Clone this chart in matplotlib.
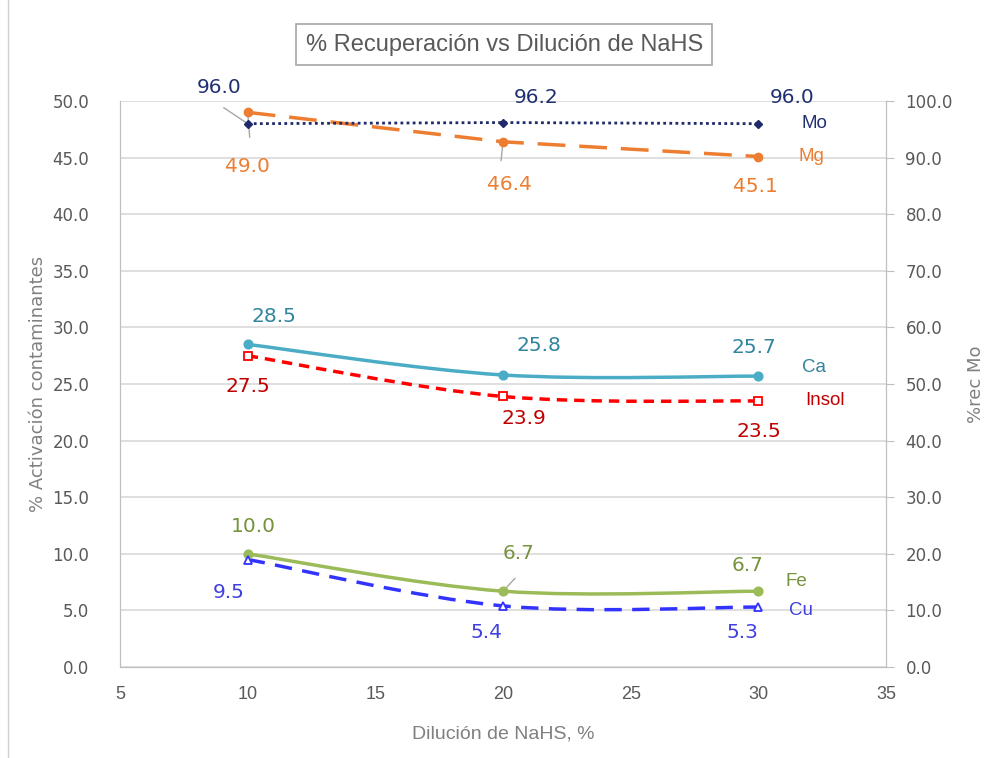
import numpy as np
import matplotlib.pyplot as plt
from matplotlib.path import Path
from matplotlib.patches import PathPatch
from matplotlib.lines import Line2D

# data
dilucion = [10, 20, 30]
mo = [96.0, 96.2, 96.0]      # right axis
mg = [49.0, 46.4, 45.1]
ca = [28.5, 25.8, 25.7]
insol = [27.5, 23.9, 23.5]
fe = [10.0, 6.7, 6.7]
cu = [9.5, 5.4, 5.3]

narrow = ['Liberation Sans', 'DejaVu Sans']
gray = '#808080'


def smooth_path(x, y):
    # Excel-style smoothed line: Catmull-Rom as cubic Bezier segments
    pts = np.column_stack([x, y]).astype(float)
    verts = [pts[0]]
    codes = [Path.MOVETO]
    n = len(pts)
    for i in range(n - 1):
        p0 = pts[i - 1] if i > 0 else pts[i]
        p1 = pts[i]
        p2 = pts[i + 1]
        p3 = pts[i + 2] if i + 2 < n else pts[i + 1]
        c1 = p1 + (p2 - p0) / 6.0
        c2 = p2 - (p3 - p1) / 6.0
        verts += [c1, c2, p2]
        codes += [Path.CURVE4] * 3
    return Path(verts, codes)


fig = plt.figure(figsize=(9.88, 7.58), dpi=100)
ax = fig.add_axes([0.1215, 0.12, 0.7753, 0.7467])
ax2 = ax.twinx()

ax.set_xlim(5, 35)
ax.set_ylim(0, 50)
ax2.set_ylim(0, 100)
ax.set_yticks(np.arange(0, 51, 5))
ax2.set_yticks(np.arange(0, 101, 10))
ax.set_xticks(np.arange(5, 36, 5))
ax.yaxis.set_major_formatter(plt.FormatStrFormatter('%.1f'))
ax2.yaxis.set_major_formatter(plt.FormatStrFormatter('%.1f'))
ax.grid(axis='y', color='#d9d9d9', lw=1.2)
ax.set_axisbelow(True)

for a in (ax, ax2):
    a.spines['top'].set_visible(False)
    a.spines['left'].set_color('#bfbfbf')
    a.spines['right'].set_color('#bfbfbf')
    a.spines['bottom'].set_color('#bfbfbf')

ax.tick_params(axis='y', length=0, labelsize=12, labelcolor='#595959', pad=22)
ax.tick_params(axis='x', length=0, labelsize=13, labelcolor='#595959', pad=14)
for t in ax.get_xticklabels():
    t.set_family(narrow)
for t in ax.get_yticklabels() + ax2.get_yticklabels():
    t.set_family('DejaVu Sans')
ax2.tick_params(axis='y', length=6, color='#bfbfbf', labelsize=12, labelcolor='#595959', pad=8)

ax.set_xlabel('Dilución de NaHS, %', fontsize=14, color=gray, family=narrow, labelpad=16)
ax.set_ylabel('% Activación contaminantes', fontsize=13, color=gray, family='DejaVu Sans', labelpad=4)
ax2.set_ylabel('%rec Mo', fontsize=13, color=gray, family='DejaVu Sans', labelpad=10)

# straight series
ax2.plot(dilucion, mo, color='#1f2a6b', ls=(0, (1, 1.2)), lw=2, marker='D', ms=4, zorder=3)
ax.plot(dilucion, mg, color='#ed7d31', ls=(0, (8, 4)), lw=2.5, marker='o', ms=6, zorder=3)

# smoothed series
smooth = [
    (ca, '#4bacc6', '-', 'o', '#4bacc6'),
    (insol, '#ff0000', (0, (3, 2)), 's', 'white'),
    (fe, '#9bbb59', '-', 'o', '#9bbb59'),
    (cu, '#3333ff', (0, (5, 3)), '^', 'white'),
]
for ys, col, ls, mk, mfc in smooth:
    ax.add_patch(PathPatch(smooth_path(dilucion, ys), fill=False, edgecolor=col,
                           lw=2.5, ls=ls, zorder=3))
    ax.plot(dilucion, ys, ls='none', marker=mk, ms=6, color=col, mfc=mfc, mew=1.3, zorder=4)

# leader lines from a few labels to their points
leaders = [(ax2, 0, mo, (-24, 16)), (ax, 0, mg, (2, -25)), (ax, 1, mg, (-2, -19)), (ax, 1, fe, (12, 13))]
for a, i, ys, off in leaders:
    a.annotate('', xy=(dilucion[i], ys[i]), xytext=off, textcoords='offset pixels',
               arrowprops=dict(arrowstyle='-', color='#a6a6a6', lw=1, shrinkA=0, shrinkB=0),
               zorder=2)

# data labels (offsets in pixels)
def labels(a, ys, offs, col):
    for x, y, (dx, dy) in zip(dilucion, ys, offs):
        a.annotate(f'{y:.1f}', (x, y), xytext=(dx, dy), textcoords='offset pixels',
                   ha='center', va='center', fontsize=14.5, color=col, zorder=5)

labels(ax2, mo, [(-29, 36), (33, 25), (34, 26)], '#203070')
labels(ax, mg, [(0, -54), (6, -43), (-3, -30)], '#ed7d31')
labels(ax, ca, [(26, 28), (36, 29), (-4, 29)], '#31859c')
labels(ax, insol, [(0, -31), (21, -22), (1, -30)], '#c00000')
labels(ax, fe, [(6, 27), (16, 38), (-11, 26)], '#76923c')
labels(ax, cu, [(-19, -33), (-17, -27), (-16, -25)], '#4040e0')

# series names
names = [(ax2, mo, 'Mo', '#203070', (56, 0)),
         (ax, mg, 'Mg', '#ed7d31', (53, 0)),
         (ax, ca, 'Ca', '#31859c', (56, 9)),
         (ax, insol, 'Insol', '#c00000', (67, 1)),
         (ax, fe, 'Fe', '#76923c', (38, 10)),
         (ax, cu, 'Cu', '#4040e0', (43, -3))]
for a, ys, name, col, (dx, dy) in names:
    a.annotate(name, (dilucion[-1], ys[-1]), xytext=(dx, dy), textcoords='offset pixels',
               ha='center', va='center', fontsize=13.5, color=col, family=narrow)

fig.text(0.5105, 0.941, '% Recuperación vs Dilución de NaHS', ha='center', va='center',
         fontsize=17, color='#595959', family=narrow,
         bbox=dict(boxstyle='square,pad=0.4', fc='white', ec='#a6a6a6', lw=1.2))

# chart area border on the left edge
fig.add_artist(Line2D([0.008, 0.008], [0, 1], transform=fig.transFigure, color='#d0d0d0', lw=1))

fig.savefig('out.png', dpi=100)
